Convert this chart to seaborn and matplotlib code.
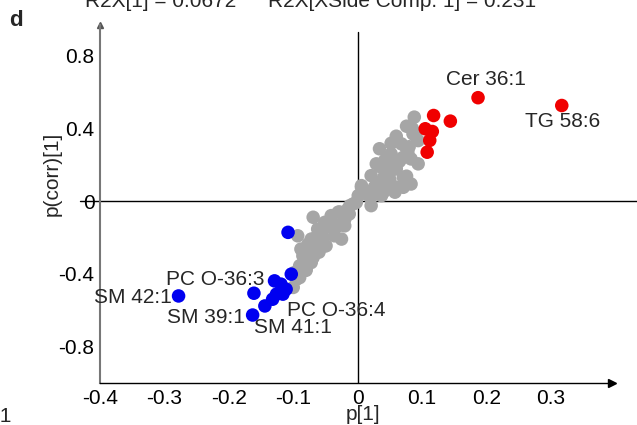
import matplotlib
matplotlib.use("Agg")
import matplotlib.pyplot as plt
import numpy as np
import pandas as pd
import seaborn as sns

# loadings
gray_x = [0.088, 0.086, 0.068, 0.094, 0.052, 0.078, 0.094, 0.042, 0.060, 0.071,
          0.042, 0.021, 0.006, 0.026, 0.060, 0.040, 0.001, 0.076, 0.045, 0.076,
          0.058, 0.071, 0.037, 0.021, -0.007, -0.015, -0.041, -0.069, -0.056, -0.036,
          -0.093, -0.077, -0.051, -0.085, -0.090, -0.072, 0.006, -0.012, -0.002, -0.020,
          -0.051, -0.062, -0.054, -0.082, -0.030, -0.041, -0.049, -0.069, -0.085, -0.098,
          -0.100, 0.026, 0.037, 0.040, 0.030, 0.050, 0.060, 0.070, 0.080, 0.050,
          0.085, 0.090, 0.065, 0.035, 0.010, 0.020, -0.030, -0.020, -0.045, -0.065,
          -0.070, -0.060, -0.090, -0.080,
          0.060, 0.076, 0.052, 0.083, 0.034, 0.049, 0.029, 0.083, 0.014, 0.045,
          -0.013, -0.028, -0.046, -0.072, -0.064, -0.080, -0.095, -0.088, -0.025]
gray_y = [0.463, 0.371, 0.316, 0.334, 0.261, 0.270, 0.206, 0.224, 0.178, 0.132,
          0.141, 0.141, 0.086, 0.077, 0.077, 0.050, 0.031, 0.289, 0.233, 0.138,
          0.050, 0.077, 0.035, -0.024, -0.015, -0.042, -0.079, -0.088, -0.171, -0.190,
          -0.190, -0.236, -0.245, -0.300, -0.355, -0.337, 0.077, -0.024, -0.006, -0.135,
          -0.116, -0.153, -0.199, -0.291, -0.135, -0.107, -0.245, -0.309, -0.346, -0.392,
          -0.474, 0.068, 0.031, 0.123, 0.100, 0.120, 0.200, 0.240, 0.300, 0.160,
          0.400, 0.360, 0.220, 0.190, 0.050, 0.020, -0.060, -0.100, -0.140, -0.200,
          -0.260, -0.280, -0.420, -0.380,
          0.358, 0.413, 0.319, 0.233, 0.289, 0.178, 0.206, 0.095, 0.040, 0.095,
          -0.070, -0.059, -0.130, -0.208, -0.263, -0.373, -0.429, -0.263, -0.208]

red_x = [0.187, 0.317, 0.118, 0.144, 0.105, 0.116, 0.112, 0.108]
red_y = [0.570, 0.527, 0.472, 0.441, 0.399, 0.384, 0.335, 0.270]

blue_x = [-0.108, -0.278, -0.161, -0.163, -0.144, -0.103, -0.129, -0.119,
          -0.111, -0.126, -0.116, -0.132]
blue_y = [-0.171, -0.521, -0.506, -0.626, -0.576, -0.401, -0.438, -0.456,
          -0.484, -0.511, -0.511, -0.539]

label_text = ["Cer 36:1", "TG 58:6", "PC O-36:3", "SM 42:1", "SM 39:1", "PC O-36:4", "SM 41:1"]
label_x = [0.199, 0.318, -0.221, -0.349, -0.235, -0.033, -0.101]
label_y = [0.670, 0.437, -0.429, -0.528, -0.638, -0.600, -0.694]

xticks = [-0.4, -0.3, -0.2, -0.1, 0, 0.1, 0.2, 0.3]
xticklabels = ["-0.4", "-0.3", "-0.2", "-0.1", "0", "0.1", "0.2", "0.3"]
yticks = [-0.8, -0.4, 0, 0.4, 0.8]
yticklabels = ["-0.8", "-0.4", "0", "0.4", "0.8"]

df = pd.DataFrame({
    "p1": gray_x + red_x + blue_x,
    "pcorr1": gray_y + red_y + blue_y,
    "group": ["none"] * len(gray_x) + ["up"] * len(red_x) + ["down"] * len(blue_x),
})

sns.set_style("white")
plt.rcParams["font.family"] = ["Liberation Sans", "DejaVu Sans"]
fs = 15

fig = plt.figure(figsize=(6.37, 4.25), dpi=100)
ax = fig.add_axes([100 / 637, 42 / 425, 512 / 637, 358 / 425])

ax.axhline(0, xmin=-0.04, xmax=1.05, color="black", lw=1, clip_on=False, zorder=1)
ax.axvline(0, ymin=0, ymax=0.98, color="black", lw=1, zorder=1)

sns.scatterplot(data=df, x="p1", y="pcorr1", hue="group",
                palette={"none": "#A6A6A6", "up": "#F00000", "down": "#0000F0"},
                s=95, linewidth=0, legend=False, ax=ax, zorder=3)

for t, x, y in zip(label_text, label_x, label_y):
    ax.text(x, y, t, ha="center", va="center", fontsize=fs, zorder=4)

ax.set_xlim(-0.4, 0.395)
ax.set_ylim(-1.0, 0.97)
ax.set_xticks(xticks)
ax.set_xticklabels(xticklabels, fontsize=fs)
ax.set_yticks(yticks)
ax.set_yticklabels(yticklabels, fontsize=fs)
ax.set_xticks(np.arange(-0.35, 0.39, 0.1), minor=True)
ax.set_yticks([-1.0, -0.6, -0.2, 0.2, 0.6], minor=True)
ax.tick_params(axis="both", which="both", direction="out", length=3, width=1, pad=1)
ax.tick_params(axis="y", colors="#777777", labelcolor="black")
ax.tick_params(axis="x", colors="black")

sns.despine(ax=ax)
ax.spines["left"].set_color("#777777")
ax.spines["left"].set_linewidth(1.5)
ax.spines["bottom"].set_color("black")
ax.spines["bottom"].set_linewidth(1)
ax.plot(1, 0, ">", color="black", ms=6, transform=ax.transAxes, clip_on=False)
ax.plot(0, 1, "^", color="#555555", ms=4, transform=ax.transAxes, clip_on=False)

ax.set_xlabel("p[1]", fontsize=fs)
ax.set_ylabel("p(corr)[1]", fontsize=fs)
ax.xaxis.set_label_coords(0.514, -0.062)
ax.yaxis.set_label_coords(-0.074, 0.584)

# title sits half outside the top edge, as in the source panel
fig.text(85 / 637, 1 - 7 / 425, "R2X[1] = 0.0672", fontsize=fs, ha="left", va="baseline")
fig.text(268 / 637, 1 - 7 / 425, "R2X[XSide Comp. 1] = 0.231", fontsize=fs, ha="left", va="baseline")
fig.text(9 / 637, 1 - 20 / 425, "d", fontsize=fs + 1, fontweight="bold", ha="left", va="center")
fig.text(12 / 637, 1 - 416 / 425, ":1", fontsize=fs, ha="right", va="center")

fig.savefig("out.png", dpi=100)
